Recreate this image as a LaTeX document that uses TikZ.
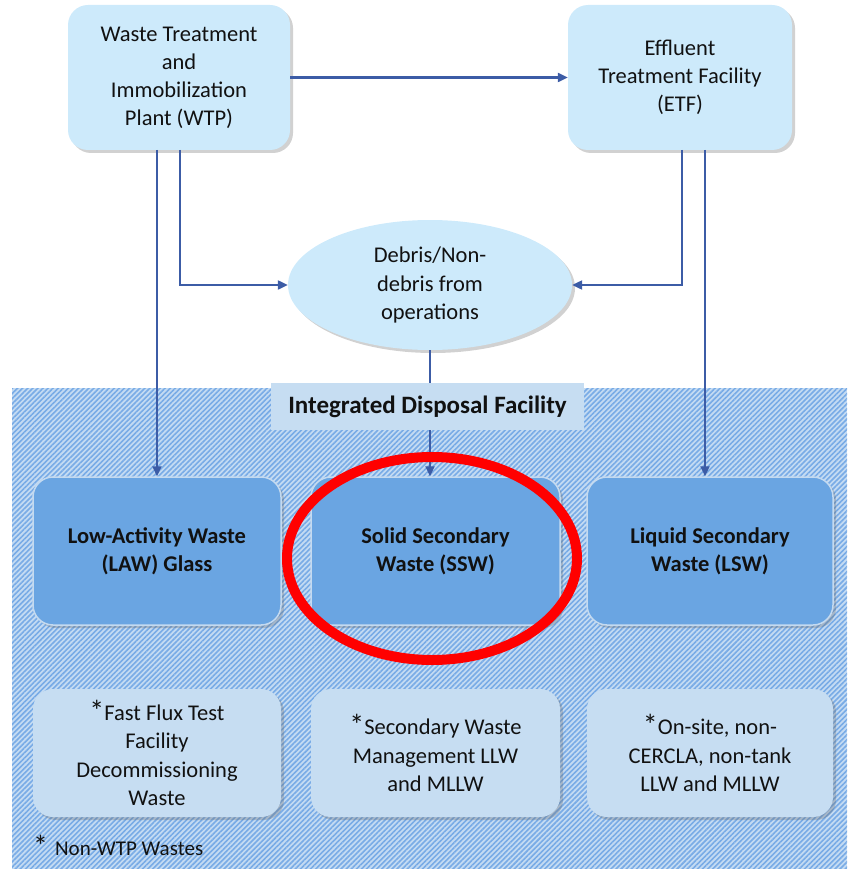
\documentclass[tikz,border=0pt]{standalone}
\usepackage{fontspec}
\setmainfont{Carlito}
\usetikzlibrary{arrows.meta,shapes.geometric,shadows,patterns.meta}
\definecolor{topfill}{HTML}{CDEAFB}
\definecolor{midfill}{HTML}{6AA5E2}
\definecolor{midborder}{HTML}{C4DAF0}
\definecolor{botfill}{HTML}{C6DDF2}
\definecolor{hatchbg}{HTML}{C4DBF3}
\definecolor{hatchln}{HTML}{78ABE6}
\definecolor{arrowc}{HTML}{3C5CA6}
\definecolor{txt}{HTML}{111111}
\newcommand{\bigast}{{\fontsize{30}{28}\selectfont\raisebox{-1pt}{*}}}
\tikzset{
  x=1pt,y=-1pt,
  shad/.style={drop shadow={shadow xshift=3pt,shadow yshift=-3pt,opacity=0.3,fill=black!60}},
  topbox/.style={rectangle,rounded corners=20pt,fill=topfill,shad,align=center,text=txt,
    font=\fontsize{22.5}{28}\selectfont,inner sep=0pt},
  midbox/.style={rectangle,rounded corners=20pt,fill=midfill,draw=midborder,line width=1.5pt,shad,
    align=center,text=txt,font=\fontsize{22.5}{28}\selectfont\bfseries,inner sep=0pt,
    minimum height=148pt},
  botbox/.style={rectangle,rounded corners=20pt,fill=botfill,shad,align=center,text=txt,
    font=\fontsize{22.5}{28.5}\selectfont,inner sep=0pt,minimum height=128pt},
  flow/.style={draw=arrowc,line width=2.2pt,-{Triangle[length=10pt,width=9pt]}},
}
\begin{document}
\begin{tikzpicture}
\useasboundingbox (0,0) rectangle (848,869);
% IDF hatched region
\fill[hatchbg] (12,388) rectangle (847,869);
\fill[pattern={Lines[angle=45,distance=3.6pt,line width=1.6pt]},pattern color=hatchln] (12,388) rectangle (847,869);

% top nodes
\node[topbox,minimum width=222pt,minimum height=145pt] (wtp) at (179,77.5)
  {Waste Treatment\\and\\Immobilization\\Plant (WTP)};
\node[topbox,minimum width=224pt,minimum height=145pt] (etf) at (680,77.5)
  {Effluent\\Treatment Facility\\(ETF)};
\node[ellipse,fill=topfill,shad,minimum width=284pt,minimum height=130pt,inner sep=0pt,
  align=center,text=txt,font=\fontsize{22.5}{28.5}\selectfont] (deb) at (430,285)
  {Debris/Non-\\debris from\\operations};

% middle boxes
\node[midbox,minimum width=248pt] (law) at (157,551) {Low-Activity Waste\\(LAW) Glass};
\node[midbox,minimum width=249pt] (ssw) at (435.5,551) {Solid Secondary\\Waste (SSW)};
\node[midbox,minimum width=246pt] (lsw) at (710,551) {Liquid Secondary\\Waste (LSW)};

% bottom boxes
\node[botbox,minimum width=248pt] (b1) at (157,753) {\bigast Fast Flux Test\\Facility\\Decommissioning\\Waste};
\node[botbox,minimum width=249pt] (b2) at (435.5,753) {\bigast Secondary Waste\\Management LLW\\and MLLW};
\node[botbox,minimum width=246pt] (b3) at (710,753) {\bigast On-site, non-\\CERCLA, non-tank\\LLW and MLLW};

% connectors
\coordinate (w1) at (157,150);
\coordinate (w2) at (180,150);
\coordinate (w2b) at (180,285);
\coordinate (e1) at (682,150);
\coordinate (e1b) at (682,285);
\coordinate (e2) at (705,150);
\draw[flow] (wtp.east) -- (etf.west);
\draw[flow] (w1) -- (w1 |- law.north);
\draw[flow] (w2) -- (w2b) -- (deb.west);
\draw[flow] (e1) -- (e1b) -- (deb.east);
\draw[flow] (e2) -- (e2 |- lsw.north);
\draw[flow] (deb.south) -- (ssw.north -| deb.south);

% IDF label
\node[rectangle,fill=botfill,minimum width=313pt,minimum height=47pt,inner sep=0pt,
  text=txt,font=\fontsize{25}{28}\selectfont\bfseries] (idf) at (427.5,406.5) {Integrated Disposal Facility};

% footnote
\node[anchor=west,text=txt,font=\fontsize{21}{25}\selectfont,inner sep=0pt] (fn) at (33,846) {\bigast\,\,Non-WTP Wastes};

% red highlight ellipse
\node[ellipse,draw=red,line width=10pt,minimum width=290pt,minimum height=203pt,inner sep=0pt] (hl) at (432,558.5) {};
\end{tikzpicture}
\end{document}
